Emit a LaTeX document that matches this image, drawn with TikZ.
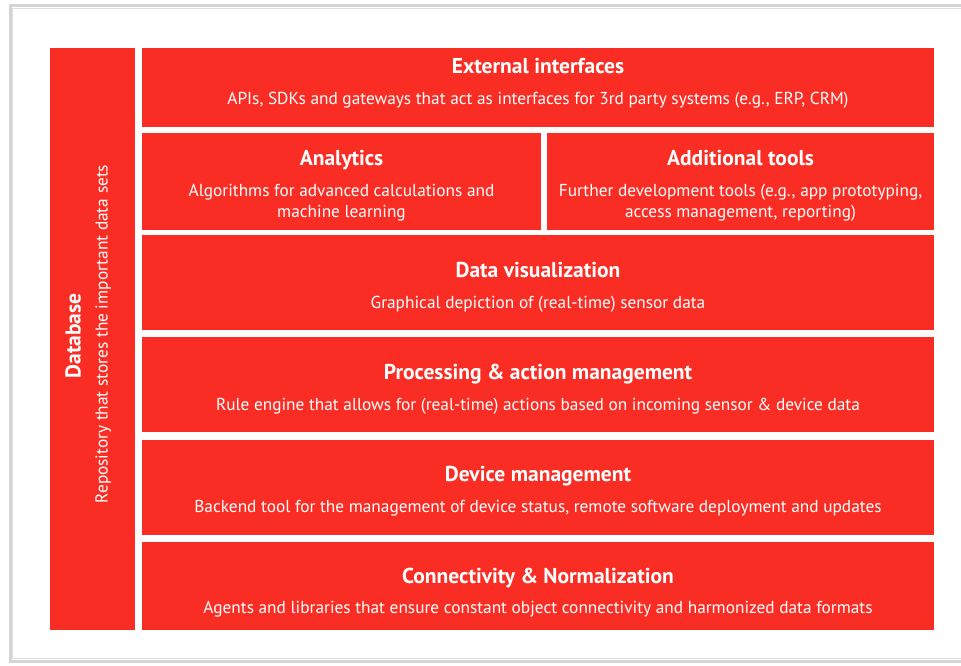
\documentclass[tikz,border=0pt]{standalone}
\usepackage{fontspec}
\setmainfont{PT Sans}
\definecolor{boxred}{HTML}{FA2D24}
\definecolor{framegray}{HTML}{D4D4D4}
\tikzset{
  blk/.style={fill=boxred, draw=none, inner sep=0pt},
  ttl/.style={text=white, inner sep=0pt, anchor=base, font=\fontsize{21.5}{24}\selectfont\bfseries},
  sub/.style={text=white, inner sep=0pt, anchor=base, align=center, font=\fontsize{17.3}{20.5}\selectfont},
}
\begin{document}
\begin{tikzpicture}[x=1pt,y=-1pt]
\useasboundingbox (0,0) rectangle (961,666);
\fill[white] (0,0) rectangle (961,666);
\draw[framegray, line width=3pt] (10,6) rectangle (990,661);
\draw[gray!25, line width=1pt] (12.5,8.5) rectangle (990,658.5);

% boxes
\node[blk, minimum width=85pt, minimum height=582pt] (db) at (92.5,339) {};
\node[blk, minimum width=792pt, minimum height=79pt] (ext) at (538,87.5) {};
\node[blk, minimum width=399pt, minimum height=97pt] (ana) at (341.5,181.5) {};
\node[blk, minimum width=387pt, minimum height=97pt] (add) at (740.5,181.5) {};
\node[blk, minimum width=792pt, minimum height=95pt] (vis) at (538,282.5) {};
\node[blk, minimum width=792pt, minimum height=95pt] (proc) at (538,384.5) {};
\node[blk, minimum width=792pt, minimum height=95pt] (dev) at (538,487.5) {};
\node[blk, minimum width=792pt, minimum height=88pt] (conn) at (538,586) {};

% texts
\node[ttl, rotate=90] (dbt) at (80.5,336) {Database};
\node[sub, rotate=90] (dbs) at (107.5,334) {Repository that stores the important data sets};

\node[ttl] (extt) at (538,74) {External interfaces};
\node[sub] (exts) at (538,105) {APIs, SDKs and gateways that act as interfaces for 3rd party systems (e.g., ERP, CRM)};

\node[ttl] (anat) at (341.5,165) {Analytics};
\node[sub] (anas) at (341.5,217) {Algorithms for advanced calculations and\\machine learning};

\node[ttl] (addt) at (740.5,165) {Additional tools};
\node[sub] (adds) at (740.5,217) {Further development tools (e.g., app prototyping,\\access management, reporting)};

\node[ttl] (vist) at (538,277) {Data visualization};
\node[sub] (viss) at (538,308.5) {Graphical depiction of (real-time) sensor data};

\node[ttl] (proct) at (538,379) {Processing \& action management};
\node[sub] (procs) at (538,410.5) {Rule engine that allows for (real-time) actions based on incoming sensor \& device data};

\node[ttl] (devt) at (538,481.5) {Device management};
\node[sub] (devs) at (538,512.5) {Backend tool for the management of device status, remote software deployment and updates};

\node[ttl] (connt) at (538,583.5) {Connectivity \& Normalization};
\node[sub] (conns) at (538,613.5) {Agents and libraries that ensure constant object connectivity and harmonized data formats};
\end{tikzpicture}
\end{document}
